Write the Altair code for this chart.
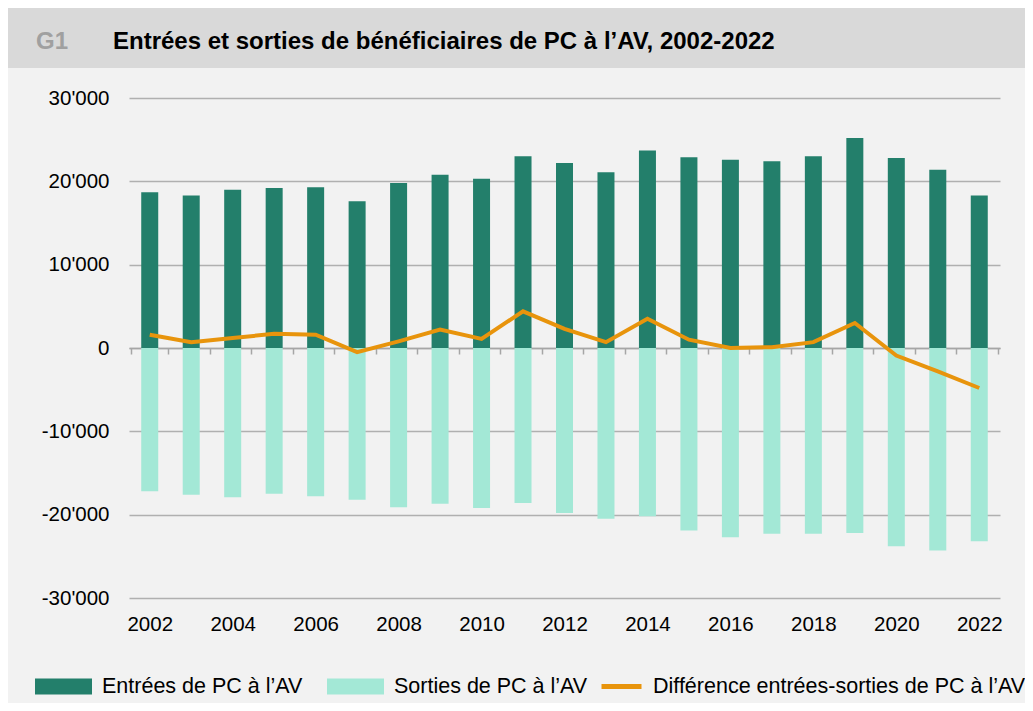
import altair as alt
import pandas as pd

FONT = "Liberation Sans"
DARK = "#237f6b"
LIGHT = "#a3e8d6"
ORANGE = "#e8940c"

ENT = "Entrées de PC à l’AV"
SOR = "Sorties de PC à l’AV"
DIF = "Différence entrées-sorties de PC à l’AV"

years = list(range(2002, 2023))
entries = [18700, 18300, 19000, 19200, 19300, 17600, 19800, 20800, 20300, 23000,
           22200, 21100, 23700, 22900, 22600, 22400, 23000, 25200, 22800, 21400, 18300]
exits = [-17200, -17600, -17900, -17500, -17800, -18200, -19100, -18700, -19200, -18600,
         -19800, -20500, -20200, -21900, -22700, -22300, -22300, -22200, -23800, -24300, -23200]
difference = [1600, 700, 1200, 1700, 1600, -500, 800, 2200, 1100, 4400,
              2300, 700, 3500, 1000, 0, 100, 700, 3000, -900, -2800, -4800]
y_ticks = [-30000, -20000, -10000, 0, 10000, 20000, 30000]

W, H = 871, 500
PAD = {"left": 121, "top": 90, "right": 25, "bottom": 105}

bars_df = pd.DataFrame({
    "annee": years * 2,
    "serie": [ENT] * len(years) + [SOR] * len(years),
    "valeur": entries + exits,
})
line_df = pd.DataFrame({"annee": years, "serie": [DIF] * len(years), "valeur": difference})
one = pd.DataFrame({"k": [0]})

x_enc = alt.X(
    "annee:O", title=None,
    axis=alt.Axis(
        offset=-250, labelPadding=260, tickSize=6, tickWidth=1.5, tickColor="#a6a6a6",
        tickBand="extent", domainColor="#a6a6a6", domainWidth=1.5,
        labelAngle=0, labelFontSize=20.5, labelFont=FONT, labelColor="#000000",
        labelOverlap=False, grid=False,
        labelExpr="datum.value % 2 == 0 ? datum.label : ''",
    ),
)
y_enc = alt.Y(
    "valeur:Q", title=None, stack=None,
    scale=alt.Scale(domain=[-30000, 30000], nice=False),
    axis=alt.Axis(
        values=y_ticks, grid=True, gridColor="#b0b0b0", gridWidth=1.5,
        domain=False, ticks=False, labelPadding=20, labelFontSize=20.5,
        labelFont=FONT, labelColor="#000000",
        labelExpr="(datum.value < 0 ? '-' : '') + (datum.value == 0 ? '0' : floor(abs(datum.value) / 1000) + \"'000\")",
    ),
)

header = alt.Chart(one).mark_rect(color="#d9d9d9").encode(
    x=alt.value(-121), x2=alt.value(W + PAD["right"]),
    y=alt.value(-90), y2=alt.value(-30),
)
g1 = alt.Chart(one).mark_text(
    text="G1", align="left", baseline="alphabetic", fontSize=24,
    fontWeight="bold", color="#a0a0a0", font=FONT,
).encode(x=alt.value(-93), y=alt.value(-49))
title = alt.Chart(one).mark_text(
    text="Entrées et sorties de bénéficiaires de PC à l’AV, 2002-2022",
    align="left", baseline="alphabetic", fontSize=24, fontWeight="bold",
    color="#000000", font=FONT,
).encode(x=alt.value(-16), y=alt.value(-49))

bars = alt.Chart(bars_df).mark_bar(size=17).encode(
    x=x_enc, y=y_enc,
    color=alt.Color(
        "serie:N", sort=[ENT, SOR],
        scale=alt.Scale(domain=[ENT, SOR], range=[DARK, LIGHT]),
        legend=alt.Legend(
            title=None, orient="none", legendX=-94, legendY=560, direction="horizontal",
            symbolType="M-1,-0.28L1,-0.28L1,0.28L-1,0.28Z", symbolSize=3249,
            symbolStrokeWidth=0, symbolOpacity=1, labelOffset=10, columnPadding=24,
            labelFontSize=21.5, labelFont=FONT, labelColor="#000000", padding=0,
            labelLimit=500,
        ),
    ),
)
line = alt.Chart(line_df).mark_line(strokeWidth=4).encode(
    x=alt.X("annee:O"), y=alt.Y("valeur:Q"),
    stroke=alt.Stroke(
        "serie:N",
        scale=alt.Scale(domain=[DIF], range=[ORANGE]),
        legend=alt.Legend(
            title=None, orient="none", legendX=470, legendY=566, direction="horizontal",
            symbolType="stroke", symbolSize=1600, symbolStrokeWidth=5,
            labelOffset=9, labelFontSize=21.5, labelFont=FONT, labelColor="#000000",
            padding=0, labelLimit=600,
        ),
    ),
)

chart = alt.layer(header, g1, title, bars, line).properties(
    width=W, height=H, padding=PAD,
    autosize=alt.AutoSizeParams(type="none"),
    background="#f2f2f2",
).configure_view(stroke=None)

chart.save("out.html", embed_options={"renderer": "svg", "actions": False})
